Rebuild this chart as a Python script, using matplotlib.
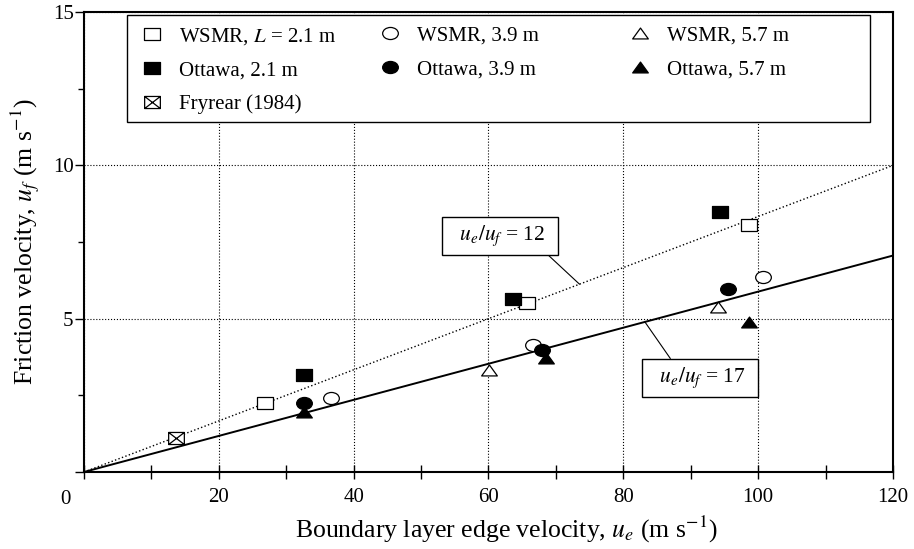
import numpy as np
import matplotlib.pyplot as plt
from matplotlib.path import Path
from matplotlib.patches import Rectangle
from matplotlib.transforms import Affine2D

plt.rcParams['font.family'] = ['Liberation Serif', 'DejaVu Serif']
plt.rcParams['mathtext.fontset'] = 'stix'

# u_e and u_f (m/s)
wsmr_21_ue = [26.9, 65.7, 98.6]
wsmr_21_uf = [2.24, 5.50, 8.05]
wsmr_39_ue = [36.7, 66.6, 100.7]
wsmr_39_uf = [2.40, 4.14, 6.35]
wsmr_57_ue = [60.1, 94.0]
wsmr_57_uf = [3.32, 5.37]
ottawa_21_ue = [32.7, 63.6, 94.3]
ottawa_21_uf = [3.16, 5.63, 8.47]
ottawa_39_ue = [32.7, 67.9, 95.5]
ottawa_39_uf = [2.24, 3.97, 5.96]
ottawa_57_ue = [32.7, 68.5, 98.6]
ottawa_57_uf = [1.96, 3.71, 4.89]
fryrear_ue = [13.6]
fryrear_uf = [1.10]

ratios = [12, 17]
line_ue = np.array([0.0, 120.0])
x_ticks = [0, 20, 40, 60, 80, 100, 120]
x_tick_labels = ['', '20', '40', '60', '80', '100', '120']
y_ticks = [0, 5, 10, 15]
y_tick_labels = ['', '5', '10', '15']


def box_marker(cross=False):
    verts = [(-1.3, -1), (1.3, -1), (1.3, 1), (-1.3, 1), (-1.3, -1)]
    codes = [Path.MOVETO] + [Path.LINETO] * 3 + [Path.CLOSEPOLY]
    if cross:
        verts += [(-1.3, -1), (1.3, 1), (-1.3, 1), (1.3, -1)]
        codes += [Path.MOVETO, Path.LINETO, Path.MOVETO, Path.LINETO]
    return Path(verts, codes)


ellipse = Affine2D().scale(1.3, 1.0).transform_path(Path.unit_circle())
triangle = Path([(-1.3, -0.9), (1.3, -0.9), (0, 0.9), (-1.3, -0.9)],
                [Path.MOVETO, Path.LINETO, Path.LINETO, Path.CLOSEPOLY])


def plot_friction():
    fig = plt.figure(figsize=(9.14, 5.49), dpi=100)
    ax = fig.add_axes([0.0919, 0.1403, 0.8851, 0.8377])

    ax.plot(line_ue, line_ue / ratios[0], color='black', linestyle=':', lw=1.0, zorder=2)
    ax.plot(line_ue, line_ue / ratios[1], color='black', linestyle='-', lw=1.4, zorder=2)

    style = dict(linestyle='none', ms=11.3, mec='black', mew=0.9, zorder=3)
    h_w21, = ax.plot(wsmr_21_ue, wsmr_21_uf, marker=box_marker(), mfc='white',
                     label=r'WSMR, $L$ = 2.1 m', **style)
    h_o21, = ax.plot(ottawa_21_ue, ottawa_21_uf, marker=box_marker(), mfc='black',
                     label='Ottawa, 2.1 m', **style)
    h_fry, = ax.plot(fryrear_ue, fryrear_uf, marker=box_marker(cross=True), mfc='white',
                     label='Fryrear (1984)', **style)
    h_w39, = ax.plot(wsmr_39_ue, wsmr_39_uf, marker=ellipse, mfc='white',
                     label='WSMR, 3.9 m', **style)
    h_o39, = ax.plot(ottawa_39_ue, ottawa_39_uf, marker=ellipse, mfc='black',
                     label='Ottawa, 3.9 m', **style)
    h_w57, = ax.plot(wsmr_57_ue, wsmr_57_uf, marker=triangle, mfc='white',
                     label='WSMR, 5.7 m', **style)
    h_o57, = ax.plot(ottawa_57_ue, ottawa_57_uf, marker=triangle, mfc='black',
                     label='Ottawa, 5.7 m', **style)

    # ratio labels with leader lines
    box = dict(boxstyle='square,pad=0.32', fc='white', ec='black', lw=1.0)
    ax.annotate(r'  $u_e/u_f$ = %d  ' % ratios[0], xy=(73.5, 73.5 / ratios[0]), xytext=(61.7, 7.69),
                ha='center', va='center', fontsize=15.5, zorder=6, bbox=box,
                arrowprops=dict(arrowstyle='-', color='black', lw=0.8, relpos=(0.9, 0),
                                shrinkA=0, shrinkB=0))
    ax.annotate(r'  $u_e/u_f$ = %d  ' % ratios[1], xy=(83.2, 83.2 / ratios[1]), xytext=(91.4, 3.06),
                ha='center', va='center', fontsize=15.5, zorder=6, bbox=box,
                arrowprops=dict(arrowstyle='-', color='black', lw=0.8, relpos=(0.26, 1),
                                shrinkA=0, shrinkB=0))

    ax.set_xlim(0, 120)
    ax.set_ylim(0, 15)
    ax.set_xticks(x_ticks)
    ax.set_xticklabels(x_tick_labels)
    ax.set_xticks(np.arange(10, 120, 20), minor=True)
    ax.set_yticks(y_ticks)
    ax.set_yticklabels(y_tick_labels)
    ax.set_yticks([2.5, 7.5, 12.5], minor=True)
    ax.tick_params(which='both', labelsize=15, width=1.0)
    ax.tick_params(axis='y', which='major', direction='out', length=6.5, pad=1)
    ax.tick_params(axis='y', which='minor', direction='out', length=4)
    ax.tick_params(axis='x', which='both', direction='inout', length=10, pad=6.5)
    # single corner zero shared by both axes
    ax.annotate('0', xy=(0, 0), xycoords='data', xytext=(-19, -28), textcoords='offset pixels',
                ha='center', va='center', fontsize=15)
    ax.grid(True, which='major', color='black', linestyle=':', lw=0.8)
    for sp in ax.spines.values():
        sp.set_linewidth(1.5)

    ax.set_xlabel(r'Boundary layer edge velocity, $u_e$ (m s$^{-1}$)', fontsize=18.5)
    ax.xaxis.set_label_coords(0.522, -0.092)
    ax.set_ylabel(r'Friction velocity, $u_f$ (m s$^{-1}$)', fontsize=18.5, labelpad=8)

    frame = Rectangle((0.053, 0.761), 0.919, 0.232, transform=ax.transAxes,
                      fc='white', ec='black', lw=1.0, zorder=4)
    ax.add_patch(frame)
    columns = [[h_w21, h_o21, h_fry], [h_w39, h_o39], [h_w57, h_o57]]
    col_x = [0.0712, 0.3652, 0.6744]
    for i, (handles, x) in enumerate(zip(columns, col_x)):
        leg = ax.legend(handles, [h.get_label() for h in handles], loc='upper left',
                        bbox_to_anchor=(x, 0.970), frameon=False, fontsize=15,
                        handlelength=1.0, handletextpad=0.8, labelspacing=0.68,
                        borderpad=0, borderaxespad=0)
        if i < len(columns) - 1:
            ax.add_artist(leg)

    fig.savefig('out.png', dpi=100)


if __name__ == "__main__":
    plot_friction()
